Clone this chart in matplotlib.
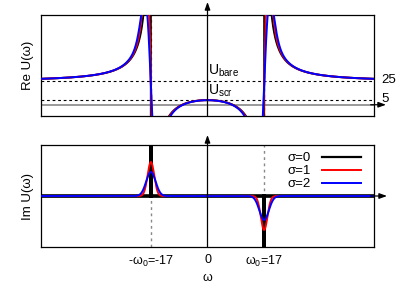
import numpy as np
import matplotlib
matplotlib.use("Agg")
import matplotlib.pyplot as plt
from matplotlib.transforms import blended_transform_factory

plt.rcParams['font.family'] = ['Liberation Sans', 'DejaVu Sans']
plt.rcParams['mathtext.fontset'] = 'custom'
plt.rcParams['mathtext.rm'] = 'Liberation Sans'
plt.rcParams['mathtext.it'] = 'Liberation Sans:italic'
plt.rcParams['font.size'] = 9

# ---- chart values (model parameters) ----
U_bare = 25.0
U_scr = 5.0
omega0 = 17.0
sigmas = [0, 1, 2]
series_labels = ['σ=0', 'σ=1', 'σ=2']
series_colors = ['#000000', '#ff0000', '#0000ff']
omega_range = [-50, 50]
re_ylim = [-12, 96]
im_ylim = [-320, 320]
xtick_values = [-omega0, 0, omega0]
xtick_labels = ['-ω$_0$=-17', '0', 'ω$_0$=17']
right_labels = ['25', '5']

# ---- model ----
C = (U_bare - U_scr) * omega0 / 2.0
omega = np.linspace(omega_range[0], omega_range[1], 2000)


def dawson(x):
    x = np.asarray(x, float)
    out = np.empty_like(x)
    big = np.abs(x) > 6
    xb = x[big]
    out[big] = 1/(2*xb)*(1 + 1/(2*xb**2) + 3/(4*xb**4) + 15/(8*xb**6))
    xs = x[~big]
    t = np.linspace(0, 14, 5000)
    w = np.exp(-t**2/4)
    out[~big] = 0.5*np.trapezoid(w[None, :]*np.sin(np.outer(xs, t)), t, axis=1)
    return out


def K(x, s):
    if s == 0:
        return 1.0/x
    return np.sqrt(2)/s*dawson(x/(np.sqrt(2)*s))


def gauss(x, s):
    return np.exp(-x**2/(2*s**2))/(s*np.sqrt(2*np.pi))


W, H = 415, 291
fig = plt.figure(figsize=(W/100, H/100), dpi=100)
L, R = 41, 374
ax1 = fig.add_axes([L/W, 1-116/H, (R-L)/W, (116-14.7)/H])
ax2 = fig.add_axes([L/W, 1-247/H, (R-L)/W, (247-145)/H])

for ax in (ax1, ax2):
    ax.set_xlim(*omega_range)
    for sp in ax.spines.values():
        sp.set_linewidth(0.9)
    for xv in (-omega0, omega0):
        ax.axvline(xv, color='#888888', lw=1.0, ls=(0, (2, 2.5)), zorder=1)

ax1.set_ylim(*re_ylim)
ax2.set_ylim(*im_ylim)

# dashed reference lines
for yv in (U_bare, U_scr):
    ax1.axhline(yv, color='black', lw=0.8, ls=(0, (2.5, 2.5)), zorder=1)
ax1.axhline(0, color='#888888', lw=1.2, zorder=1)
ax2.axhline(0, color='black', lw=1.0, zorder=1)

# Re U curves
for s2, col, lab in zip(sigmas, series_colors, series_labels):
    s = np.sqrt(s2)
    re = U_bare + C*(K(omega-omega0, s) - K(omega+omega0, s))
    ax1.plot(omega, re, color=col, lw=1.4, zorder=3)

# Im U curves
A = np.pi*C
big = 10*im_ylim[1]
for s2, col, lab in zip(sigmas, series_colors, series_labels):
    s = np.sqrt(s2)
    if s2 == 0:
        xs = [omega_range[0], -omega0, -omega0, -omega0, omega0, omega0, omega0, omega_range[1]]
        ys = [0, 0, big, 0, 0, -big, 0, 0]
        ax2.plot(xs, ys, color=col, lw=2.6, zorder=3, solid_joinstyle='miter')
        ax2.plot([], [], color=col, lw=1.6, label=lab)
    else:
        im = A*(gauss(omega+omega0, s) - gauss(omega-omega0, s))
        ax2.plot(omega, im, color=col, lw=1.4, zorder=3, label=lab)

# axes arrows
for ax, ytip, xtip in ((ax1, 2, 386), (ax2, 135, 387)):
    pos = ax.get_position()
    top_frac = (H - ytip)/H
    ax.annotate('', xy=(0.5, 1 + (top_frac - pos.y1)/pos.height), xytext=(0.5, 0),
                xycoords='axes fraction',
                arrowprops=dict(arrowstyle='-|>,head_length=0.5,head_width=0.18',
                                color='black', lw=0.9, shrinkA=0, shrinkB=0),
                annotation_clip=False, zorder=5)
    ytr = blended_transform_factory(ax.transAxes, ax.transData)
    xfr = (xtip - L)/(R - L)
    ax.annotate('', xy=(xfr, 0), xytext=(0.99, 0), xycoords=ytr,
                arrowprops=dict(arrowstyle='-|>,head_length=0.5,head_width=0.18',
                                color='black', lw=0.9, shrinkA=0, shrinkB=0),
                annotation_clip=False, zorder=5)

# texts
ax1.set_xticks([])
ax1.set_yticks([])
ax2.set_yticks([])
ax2.set_xticks(xtick_values)
ax2.set_xticklabels(xtick_labels)
ax2.tick_params(axis='x', length=0, pad=5)
ax2.set_xlabel('ω', labelpad=2)

tr = blended_transform_factory(ax1.transAxes, ax1.transData)
for yv, lab in zip((U_bare, U_scr), right_labels):
    ax1.text(1.022, yv + 1.0, lab, transform=tr, ha='left', va='center', fontsize=9.5)
ax1.text(0.0, U_bare + 2.0, 'U$_{\\mathrm{bare}}$', transform=ax1.transData,
         ha='left', va='bottom', fontsize=10)
ax1.text(0.0, U_scr + 1.5, 'U$_{\\mathrm{scr}}$', transform=ax1.transData,
         ha='left', va='bottom', fontsize=10)

fig.text(28/W, 1-65/H, 'Re U(ω)', rotation=90, ha='center', va='center', fontsize=9.5)
fig.text(28/W, 1-196/H, 'Im U(ω)', rotation=90, ha='center', va='center', fontsize=9.5)

leg = ax2.legend(loc='upper right', bbox_to_anchor=(0.96, 0.93), frameon=False,
                 markerfirst=False, handlelength=2.9, handletextpad=0.9,
                 labelspacing=0.05, borderpad=0, borderaxespad=0, fontsize=9.5)

fig.savefig('out.png', dpi=100)
